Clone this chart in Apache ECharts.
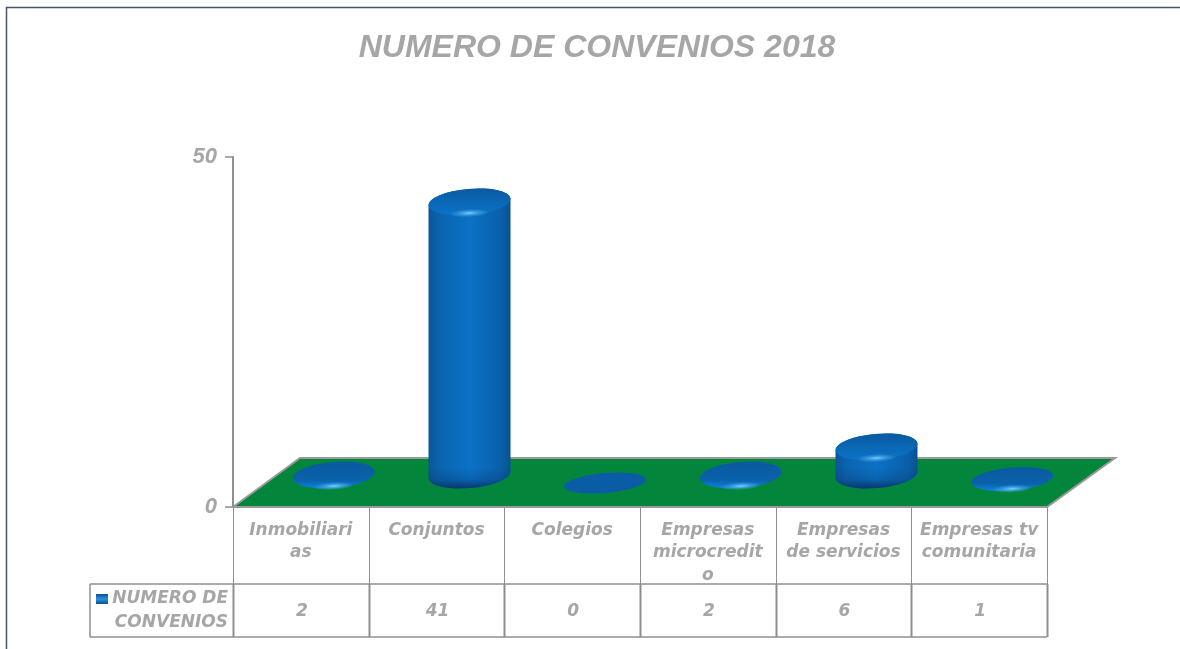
<!DOCTYPE html>
<html><head><meta charset="utf-8">
<style>html,body{margin:0;padding:0;background:#fff}#c{width:1180px;height:649px}</style>
<script src="https://cdn.jsdelivr.net/npm/echarts@6/dist/echarts.min.js"></script>
</head><body><div id="c"></div>
<script>
const titleText = 'NUMERO DE CONVENIOS 2018';
const seriesName = 'NUMERO DE\nCONVENIOS';
const categories = ['Inmobiliari\nas', 'Conjuntos', 'Colegios', 'Empresas\nmicrocredit\no', 'Empresas\nde servicios', 'Empresas tv\ncomunitaria'];
const values = [2, 41, 0, 2, 6, 1];
const yTicks = [0, 50];

const GRAY = '#a6a6a6', LINE = '#8f8f8f';
const FONT = 'italic bold 17px "DejaVu Sans"';
const chart = echarts.init(document.getElementById('c'), null, {renderer: 'canvas'});
const grad = (x0, y0, x1, y1, stops) => new echarts.graphic.LinearGradient(x0, y0, x1, y1, stops.map(s => ({offset: s[0], color: s[1]})));

function renderFloor(params, api) {
  const g = params.coordSys;
  const y0 = g.y + g.height, dx = 67, dy = 49;
  return {type: 'polygon', silent: true, shape: {points: [[g.x, y0], [g.x + dx, y0 - dy], [g.x + g.width + dx + 1, y0 - dy], [g.x + g.width, y0]]},
    style: {fill: '#03853b', stroke: '#9a9a9a', lineWidth: 2}};
}
function renderTable(params, api) {
  const g = params.coordSys;
  const y0 = g.y + g.height, yMid = y0 + 77, yEnd = y0 + 130, left = 90;
  const kids = [];
  const seg = (x1, y1, x2, y2, w) => kids.push({type: 'line', silent: true, shape: {x1, y1, x2, y2}, style: {stroke: LINE, lineWidth: w || 1}});
  const step = g.width / categories.length;
  for (let i = 0; i <= categories.length; i++) {
    const x = Math.round(g.x + step * i) + .5;
    seg(x, y0, x, yMid, 1);
    seg(x, yMid, x, yEnd, 2);
  }
  seg(left, yMid, g.x + g.width, yMid, 1.5);
  seg(left, yEnd, g.x + g.width, yEnd, 1.5);
  seg(left, yMid, left, yEnd, 1.5);
  // legend key
  kids.push({type: 'rect', shape: {x: 96, y: 594, width: 12, height: 10},
    style: {fill: grad(0, 0, 0, 1, [[0, '#0a4f8f'], [.5, '#2a92e0'], [1, '#0a4f8f']])}});
  kids.push({type: 'text', style: {x: 228, y: 587, text: seriesName, font: FONT, fill: GRAY, align: 'right', verticalAlign: 'top', lineHeight: 24}});
  return {type: 'group', children: kids};
}
function renderValue(params, api) {
  const c = api.coord([api.value(0), 0]);
  return {type: 'text', style: {x: c[0] + 1, y: c[1] + 105, text: String(api.value(1)), font: 'italic bold 17px "DejaVu Sans"', fill: GRAY, align: 'center', verticalAlign: 'middle'}};
}
function renderBar(params, api) {
  const v = api.value(1);
  const c = api.coord([api.value(0), v]);
  const base = api.coord([api.value(0), 0]);
  const a = 41, rot = -5, tip = 3.6;
  const b = Math.min(13, 10 + 1.5 * v);
  const cx = c[0] + 33;
  const lift = 18 + Math.max(0, 2 - v) * 3;
  const topY = c[1] - lift;
  const botY = Math.max(topY, base[1] - 32);
  const kids = [];
  const arc = (x, y, sweep) => `A ${a} ${b} ${rot} 0 ${sweep} ${x} ${y}`;
  if (botY > topY) {
    const d = `M ${cx - a} ${topY + tip} L ${cx - a} ${botY + tip} ${arc(cx + a, botY - tip, 0)} L ${cx + a} ${topY - tip} ${arc(cx - a, topY + tip, 0)} Z`;
    kids.push({type: 'path', shape: {pathData: d}, style: {fill: grad(0, 0, 1, 0, [[0, '#0b5596'], [.12, '#0a63ae'], [.5, '#0b72c6'], [.88, '#0a60a9'], [1, '#0a5190']])}});
    const low = `M ${cx - a} ${botY - 8} L ${cx - a} ${botY + tip} ${arc(cx + a, botY - tip, 0)} L ${cx + a} ${botY - 8} Z`;
    kids.push({type: 'path', shape: {pathData: low}, style: {fill: grad(0, 0, 0, 1, [[0, 'rgba(6,50,100,0)'], [.6, 'rgba(6,50,100,.25)'], [1, 'rgba(6,50,100,.9)']])}});
  }
  const ell = `M ${cx - a} ${topY + tip} ${arc(cx + a, topY - tip, 1)} ${arc(cx - a, topY + tip, 1)} Z`;
  const stops = v === 0 ? [[0, '#0a5da4'], [1, '#0a5da4']]
    : botY > topY ? [[0, '#0a5a9f'], [.55, '#0a69b8'], [1, '#0b72c6']]
    : [[0, '#0a5a9f'], [.7, '#0a62ab'], [1, '#0c82dc']];
  kids.push({type: 'path', shape: {pathData: ell}, style: {fill: grad(0, 0, 0, 1, stops)}});
  if (v > 0) {
    const hy = topY + b * .85;
    kids.push({type: 'circle', x: cx, y: hy, scaleX: 5, scaleY: 1, rotation: 0.05, shape: {cx: 0, cy: 0, r: 4},
      style: {fill: new echarts.graphic.RadialGradient(.5, .5, .5, [{offset: 0, color: 'rgba(130,215,255,.95)'}, {offset: .5, color: 'rgba(90,180,240,.5)'}, {offset: 1, color: 'rgba(90,180,240,0)'}])}});
  }
  return {type: 'group', children: kids};
}

chart.setOption({
  animation: false,
  backgroundColor: '#fff',
  title: {text: titleText, left: 592, textAlign: 'center', top: 27,
    textStyle: {fontFamily: '"Liberation Sans"', fontStyle: 'italic', fontWeight: 'bold', fontSize: 32, color: GRAY}},
  grid: {left: 233, top: 157, width: 814, height: 350, containLabel: false},
  xAxis: {type: 'category', data: categories, position: 'bottom', boundaryGap: true,
    axisLine: {show: false}, axisTick: {show: false},
    axisLabel: {margin: 12, interval: 0, fontFamily: '"DejaVu Sans"', fontStyle: 'italic', fontWeight: 'bold', fontSize: 17, lineHeight: 22.5, color: GRAY, verticalAlign: 'top', align: 'center'}},
  yAxis: {type: 'value', min: yTicks[0], max: yTicks[1], interval: yTicks[1],
    axisLine: {show: true, lineStyle: {color: LINE, width: 2}},
    axisTick: {show: true, length: 8, lineStyle: {color: LINE, width: 1.5}},
    splitLine: {show: false},
    axisLabel: {margin: 16, fontFamily: '"Liberation Sans"', fontStyle: 'italic', fontWeight: 'bold', fontSize: 22, color: GRAY}},
  series: [
    {type: 'custom', name: 'floor', data: [[0, 0]], renderItem: renderFloor, z: 1, silent: true},
    {type: 'custom', name: 'table', data: [[0, 0]], renderItem: renderTable, z: 1, silent: true},
    {type: 'custom', name: seriesName, data: values.map((v, i) => [i, v]), encode: {x: 0, y: 1}, renderItem: renderBar, z: 3, silent: true},
    {type: 'custom', name: 'values', data: values.map((v, i) => [i, v]), encode: {x: 0}, renderItem: renderValue, z: 3, silent: true}
  ],
  graphic: [
    {type: 'polyline', silent: true, z: 10, shape: {points: [[6.5, 649], [6.5, 7.5], [1180, 7.5]]}, style: {stroke: '#46566b', fill: 'none', lineWidth: 1.5}}
  ]
});
</script></body></html>
